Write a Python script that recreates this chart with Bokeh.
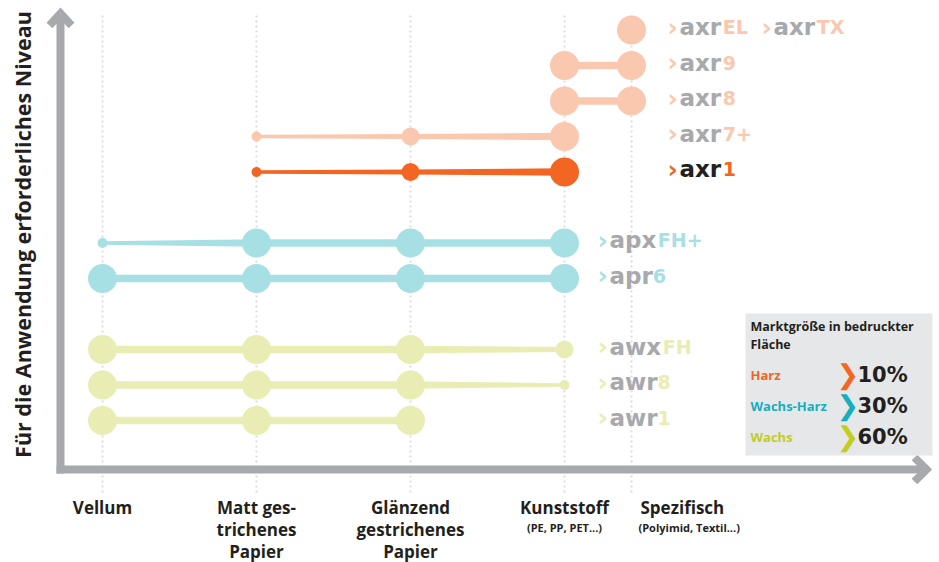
import math
from bokeh.plotting import figure
from bokeh.models import Range1d, ColumnDataSource
from bokeh.core.properties import value
from bokeh.embed import file_html
from bokeh.resources import INLINE

# ---------------- data ----------------
categories = ["Vellum", "Matt ges-\ntrichenes\nPapier", "Glänzend\ngestrichenes\nPapier",
              "Kunststoff", "Spezifisch"]
category_notes = ["", "", "", "(PE, PP, PET...)", "(Polyimid, Textil...)"]

series_prefix = ["awr", "awr", "awx", "apr", "apx", "axr", "axr", "axr", "axr", "axr"]
series_suffix = ["1", "8", "FH", "6", "FH+", "1", "7+", "8", "9", "EL"]
series_family = ["wachs", "wachs", "wachs", "wachsharz", "wachsharz",
                 "harz", "harz_alt", "harz_alt", "harz_alt", "harz_alt"]
series_level = [1, 2, 3, 5, 6, 8, 9, 10, 11, 12]

# suitability per substrate (0 = none, 1 = low, 2 = medium, 3 = full)
awr1 = [3, 3, 3, 0, 0]
awr8 = [3, 3, 3, 1, 0]
awxFH = [3, 3, 3, 2, 0]
apr6 = [3, 3, 3, 3, 0]
apxFHplus = [1, 3, 3, 3, 0]
axr1 = [0, 1, 2, 3, 0]
axr7plus = [0, 1, 2, 3, 0]
axr8 = [0, 0, 0, 3, 3]
axr9 = [0, 0, 0, 3, 3]
axrEL = [0, 0, 0, 0, 3]
suitability = [awr1, awr8, awxFH, apr6, apxFHplus, axr1, axr7plus, axr8, axr9, axrEL]

extra_prefix = "axr"
extra_suffix = "TX"

legend_names = ["Harz", "Wachs-Harz", "Wachs"]
legend_share = [10, 30, 60]
legend_title = ["Marktgröße in bedruckter", "Fläche"]
y_title = "Für die Anwendung erforderliches Niveau"

# ---------------- styles / layout ----------------
W, H = 939, 562
COL_PX, ROW_PX = 154.0, 35.5
col_pos = [0, 1, 2, 3, 3.435]
dot_px = {1: 10, 2: 18, 3: 29}
bar_px = {1: 3.5, 2: 5, 3: 7.5}
fam_color = {"wachs": "#E9EDB4", "wachsharz": "#A7E0E4",
             "harz": "#F26522", "harz_alt": "#F9C8AF"}
legend_colors = ["#F26522", "#15AFBE", "#C2CD1E"]
AX = "#A7A9AC"
DARK = "#231F20"
GREY_TXT = "#A7A9AC"
TXT_FONT = value("Open Sans")
LOGO_FONT = value("DejaVu Sans")
# DejaVu Sans Bold advance widths (em)
adv = {"a": 0.675, "p": 0.716, "r": 0.493, "w": 0.924, "x": 0.712}


def dx(px):
    return (px - 102) / COL_PX


def dy(py):
    return 1 + (420 - py) / ROW_PX


p = figure(width=W, height=H, x_range=Range1d(dx(0), dx(W)),
           y_range=Range1d(dy(H), dy(0)), output_backend="svg",
           toolbar_location=None, x_axis_type=None, y_axis_type=None,
           min_border=0, outline_line_color=None,
           background_fill_color="white", border_fill_color="white")
p.grid.visible = False

# dotted vertical guides
p.segment(x0=col_pos, y0=[dy(492)] * 5, x1=col_pos, y1=[dy(12)] * 5,
          line_color="#DDDDDD", line_width=2, line_dash="2 3")

# axes with chevron heads
p.line([dx(60), dx(60)], [dy(473), dy(14)], line_width=8, line_color=AX)
p.line([dx(49), dx(60), dx(71)], [dy(25), dy(13), dy(25)], line_width=8,
       line_color=AX, line_join="miter")
p.line([dx(56), dx(925)], [dy(469), dy(469)], line_width=8, line_color=AX)
p.line([dx(914), dx(926), dx(914)], [dy(457), dy(469), dy(481)], line_width=8,
       line_color=AX, line_join="miter")

# connecting bars (tapered) and dots
xs_all, ys_all, pc = [], [], []
dx_, dy_, ds_, dc_ = [], [], [], []
for vals, lev, fam in zip(suitability, series_level, series_family):
    col = fam_color[fam]
    present = [i for i, v in enumerate(vals) if v > 0]
    for a, b in zip(present[:-1], present[1:]):
        ha = bar_px[vals[a]] / 2 / ROW_PX
        hb = bar_px[vals[b]] / 2 / ROW_PX
        xs_all.append([col_pos[a], col_pos[b], col_pos[b], col_pos[a]])
        ys_all.append([lev + ha, lev + hb, lev - hb, lev - ha])
        pc.append(col)
    for i in present:
        dx_.append(col_pos[i]); dy_.append(lev)
        ds_.append(dot_px[vals[i]]); dc_.append(col)
p.patches(xs_all, ys_all, fill_color=pc, line_color=None)
p.scatter(x=dx_, y=dy_, size=ds_, fill_color=dc_, line_color=None)

# series labels
lab = dict(x=[], y=[], chev=[], pre=[], suf=[], cc=[], pc=[], sc=[], soff=[])


def add_label(x, lev, pre, suf, fam):
    col = fam_color[fam]
    lab["x"].append(x); lab["y"].append(lev + 3 / ROW_PX)
    lab["chev"].append("›"); lab["pre"].append(pre); lab["suf"].append(suf)
    lab["cc"].append(col)
    lab["pc"].append(DARK if fam == "harz" else GREY_TXT)
    lab["sc"].append(col)
    lab["soff"].append(11 + sum(adv[c] for c in pre) * 23)


for pre, suf, lev, fam in zip(series_prefix, series_suffix, series_level, series_family):
    if fam.startswith("harz"):
        x = col_pos[4] + 37 / COL_PX
    else:
        x = col_pos[3] + 34 / COL_PX
    add_label(x, lev, pre, suf, fam)
add_label(col_pos[4] + 131 / COL_PX, series_level[-1], extra_prefix, extra_suffix, "harz_alt")

src = ColumnDataSource(lab)
p.text(x="x", y="y", text="chev", source=src, text_color="cc", text_font=LOGO_FONT,
       text_font_size="25px", text_font_style="bold", text_baseline="alphabetic", x_offset=-1)
p.text(x="x", y="y", text="pre", source=src, text_color="pc", text_font=LOGO_FONT,
       text_font_size="23px", text_font_style="bold", text_baseline="alphabetic", x_offset=11)
p.text(x="x", y="y", text="suf", source=src, text_color="sc", text_font=LOGO_FONT,
       text_font_size="19px", text_font_style="bold", text_baseline="alphabetic", x_offset="soff")

# category labels
cx, cy, ct, ca = [], [], [], []
nx, ny, nt, na = [], [], [], []
for i, (cat, note) in enumerate(zip(categories, category_notes)):
    left = (i == len(categories) - 1)
    x = col_pos[i] + (9 / COL_PX if left else 0)
    for k, line in enumerate(cat.split("\n")):
        cx.append(x); cy.append(dy(507 + 22 * k)); ct.append(line)
        ca.append("left" if left else "center")
    if note:
        nx.append(x - (2 / COL_PX if left else 0)); ny.append(dy(527)); nt.append(note)
        na.append("left" if left else "center")
p.text(x=cx, y=cy, text=ct, text_align=ca, text_baseline="middle", text_color=DARK,
       text_font=TXT_FONT, text_font_size="17px", text_font_style="bold")
p.text(x=nx, y=ny, text=nt, text_align=na, text_baseline="middle", text_color=DARK,
       text_font=TXT_FONT, text_font_size="11px", text_font_style="bold")

# y title
p.text(x=[dx(22)], y=[dy(234)], text=[y_title], angle=math.pi / 2, text_align="center",
       text_baseline="middle", text_color=DARK, text_font=TXT_FONT,
       text_font_size="21.5px", text_font_style="bold")

# legend box
p.quad(left=[dx(745)], right=[dx(932)], top=[dy(313)], bottom=[dy(455)],
       fill_color="#E6E7E8", line_color=None)
p.text(x=[dx(750)] * 2, y=[dy(326), dy(344)], text=legend_title, text_baseline="middle",
       text_color=DARK, text_font=TXT_FONT, text_font_size="12.5px", text_font_style="bold")
ly = [dy(374 + 31 * i) for i in range(len(legend_names))]
p.text(x=[dx(750)] * 3, y=ly, text=legend_names, text_baseline="middle",
       text_color=legend_colors, text_font=TXT_FONT, text_font_size="13px",
       text_font_style="bold")
p.text(x=[dx(836)] * 3, y=ly, text=["❯"] * 3, text_baseline="middle",
       text_color=legend_colors, text_font=value("DejaVu Sans"), text_font_size="27px",
       text_font_style="bold")
p.text(x=[dx(857)] * 3, y=ly, text=[f"{v}%" for v in legend_share], text_baseline="middle",
       text_color=DARK, text_font=LOGO_FONT, text_font_size="21px", text_font_style="bold")

open("out.html", "w").write(file_html(p, INLINE))
